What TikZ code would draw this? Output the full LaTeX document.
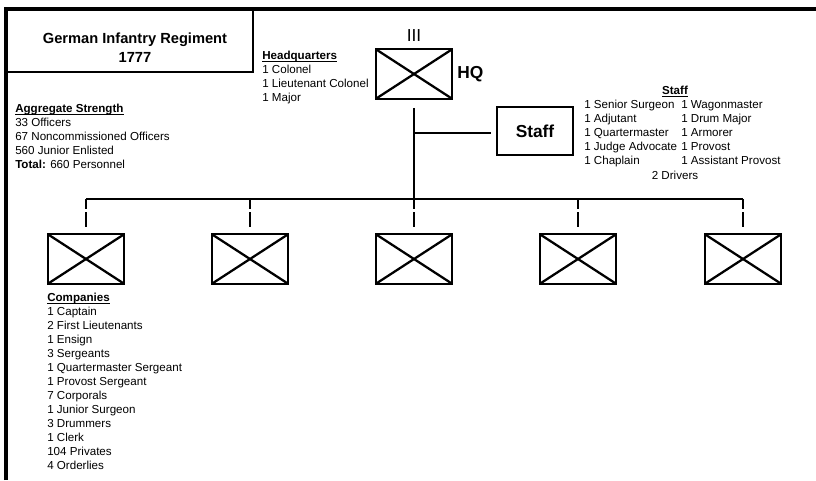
\documentclass[tikz,border=0pt]{standalone}
\usepackage{fontspec}
\setmainfont{Liberation Sans}
\usetikzlibrary{positioning}

\newcommand{\listhead}[1]{\textbf{\underline{\raisebox{0pt}[\height][0pt]{#1}}}}

\tikzset{
  unitbox/.style={draw, line width=1.7pt, minimum width=57pt, minimum height=37pt, inner sep=0pt,
    path picture={\draw[line width=1.7pt] (path picture bounding box.north west) -- (path picture bounding box.south east)
      (path picture bounding box.south west) -- (path picture bounding box.north east);}},
  listtext/.style={anchor=north west, align=left, inner sep=0pt, font=\fontsize{8.7}{10.5}\selectfont},
  link/.style={line width=1.5pt},
  drop/.style={line width=1.5pt, dash pattern=on 7.5pt off 2.25pt on 12pt},
}

\begin{document}
\begin{tikzpicture}[x=0.75pt, y=-0.75pt]
    \fill[white] (0,0) rectangle (816,480);
    \useasboundingbox (0,0) rectangle (816,480);

    % frame and title
    \draw[line width=2.6pt] (6,480) -- (6,9) -- (816,9);
    \draw[line width=2.2pt] (6,72) -- (253,72) -- (253,9);
    \node[align=center, inner sep=0pt, font=\fontsize{11}{14.25}\selectfont\bfseries] (title) at (135,47.5) {German Infantry Regiment\\1777};

    % headquarters
    \node[unitbox] (hq) at (414,74) {};
    \node[above=5pt of hq, inner sep=0pt, font=\fontsize{13}{15}\selectfont] (echelon) {III};
    \node[right=3pt of hq, inner sep=0pt, font=\fontsize{13}{15}\selectfont\bfseries] (hqlabel) {HQ};
    \node[listtext] (hqlist) at (262,51) {\listhead{Headquarters}\\1 Colonel\\1 Lieutenant Colonel\\1 Major};
    \node[listtext] (strength) at (15,104) {\listhead{Aggregate Strength}\\33 Officers\\67 Noncommissioned Officers\\560 Junior Enlisted\\\textbf{Total:} 660 Personnel};

    % staff
    \node[draw, line width=1.7pt, minimum width=57pt, minimum height=36pt, font=\fontsize{13}{15}\selectfont\bfseries] (staff) at (535,131) {Staff};
    \node[inner sep=0pt, font=\fontsize{8.7}{10.5}\selectfont] (staffhead) at (675,92) {\listhead{Staff}};
    \node[listtext] (staffleft) at (584,100) {1 Senior Surgeon\\1 Adjutant\\1 Quartermaster\\1 Judge Advocate\\1 Chaplain};
    \node[listtext] (staffright) at (681,100) {1 Wagonmaster\\1 Drum Major\\1 Armorer\\1 Provost\\1 Assistant Provost};
    \node[inner sep=0pt, font=\fontsize{8.7}{10.5}\selectfont] (drivers) at (675,175) {2 Drivers};

    % companies
    \foreach \i/\x in {1/86, 2/250, 3/414, 4/578, 5/743}
        \node[unitbox] (c\i) at (\x,259) {};
    \node[listtext] (complist) at (47,293) {\listhead{Companies}\\1 Captain\\2 First Lieutenants\\1 Ensign\\3 Sergeants\\1 Quartermaster Sergeant\\1 Provost Sergeant\\7 Corporals\\1 Junior Surgeon\\3 Drummers\\1 Clerk\\104 Privates\\4 Orderlies};

    % connectors
    \coordinate (bus) at (414,199);
    \coordinate (tee) at (414,133);
    \draw[link, shorten <=6pt] (hq.south) -- (bus);
    \draw[link, shorten >=4pt] (tee) -- (tee -| staff.west);
    \draw[link] (c1.north |- bus) -- (c5.north |- bus);
    \foreach \i in {1,...,5}
        \draw[drop, shorten >=5pt] (c\i.north |- bus) -- (c\i.north);
\end{tikzpicture}
\end{document}
